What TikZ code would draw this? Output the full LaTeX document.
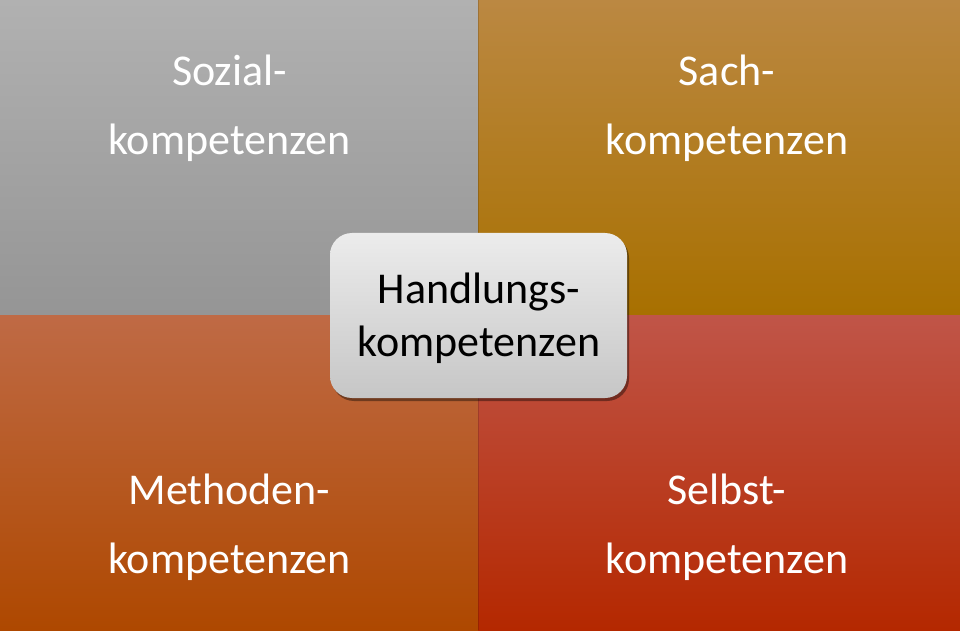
\documentclass[tikz,border=0pt]{standalone}
\usepackage{fontspec}
\setmainfont{Carlito}
\usetikzlibrary{shadows}
\definecolor{tlTop}{HTML}{B1B1B1}
\definecolor{tlBot}{HTML}{959595}
\definecolor{trTop}{HTML}{BB8842}
\definecolor{trBot}{HTML}{A87000}
\definecolor{blTop}{HTML}{BF6A45}
\definecolor{blBot}{HTML}{AE4800}
\definecolor{brTop}{HTML}{C05548}
\definecolor{brBot}{HTML}{B42800}
\definecolor{boxTop}{HTML}{ECECEC}
\definecolor{boxBot}{HTML}{C6C6C6}
\tikzset{
  quadlabel/.style={text=white, align=center, font=\fontsize{44}{60}\selectfont, inner sep=0pt},
  centerbox/.style={rounded corners=22pt, minimum width=297pt, minimum height=165pt,
    top color=boxTop, bottom color=boxBot, draw=none,
    drop shadow={shadow xshift=2pt, shadow yshift=-3pt, opacity=0.4, fill=black},
    align=center, font=\fontsize{44}{45}\selectfont, text=black, inner sep=0pt},
  centertext/.style={font=\fontsize{44}{45}\selectfont, anchor=base, inner sep=0pt},
  divider/.style={draw=black, draw opacity=0.15, line width=1pt}
}
\begin{document}
\begin{tikzpicture}[x=1pt,y=1pt]
\useasboundingbox (0,0) rectangle (960,630);
% quadrants (y measured upward, 630 at top)
\shade[top color=tlTop, bottom color=tlBot] (0,630) rectangle (478,315);
\shade[top color=trTop, bottom color=trBot] (478,630) rectangle (960,315);
\shade[top color=blTop, bottom color=blBot] (0,315) rectangle (478,0);
\shade[top color=brTop, bottom color=brBot] (478,315) rectangle (960,0);
\draw[divider] (478,0) -- (478,630);
% labels
\node[quadlabel, anchor=base] (soz1) at (229.5,544) {Sozial-};
\node[quadlabel, anchor=base] (soz2) at (229.5,475) {kompetenzen};
\node[quadlabel, anchor=base] (sac1) at (727,544) {Sach-};
\node[quadlabel, anchor=base] (sac2) at (727,475) {kompetenzen};
\node[quadlabel, anchor=base] (met1) at (229.5,126) {Methoden-};
\node[quadlabel, anchor=base] (met2) at (229.5,57) {kompetenzen};
\node[quadlabel, anchor=base] (sel1) at (727,126) {Selbst-};
\node[quadlabel, anchor=base] (sel2) at (727,57) {kompetenzen};
% center box
\node[centerbox] (hk) at (478.5,314.5) {};
\node[centertext] (hk1) at (479,327) {Handlungs-};
\node[centertext] (hk2) at (479,274) {kompetenzen};
\end{tikzpicture}
\end{document}
